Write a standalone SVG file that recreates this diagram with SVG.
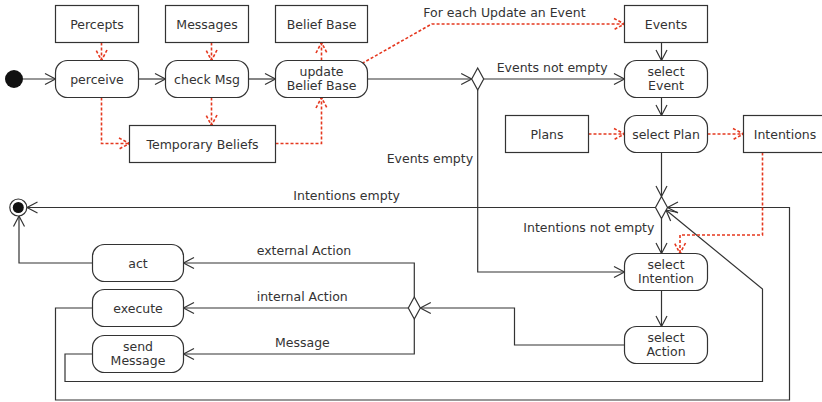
<svg xmlns="http://www.w3.org/2000/svg" width="822" height="402" viewBox="0 0 822 402">
<style>
.box{fill:#fff;stroke:#333;stroke-width:1.2}
.t{font-family:"DejaVu Sans",sans-serif;font-size:12.5px;fill:#333}
.c{text-anchor:middle}
.ln{fill:none;stroke:#333;stroke-width:1.2}
.rd{fill:none;stroke:#e5381f;stroke-width:1.6;stroke-dasharray:3,2}
</style>
<defs>
<marker id="a" markerUnits="userSpaceOnUse" markerWidth="12" markerHeight="14" refX="10.5" refY="6" orient="auto" overflow="visible">
<path d="M0,0.5 L10.5,6 L0,11.5" fill="none" stroke="#333" stroke-width="1.2"/>
</marker>
<marker id="r" markerUnits="userSpaceOnUse" markerWidth="12" markerHeight="14" refX="10.5" refY="6" orient="auto" overflow="visible">
<path d="M0,0.5 L10.5,6 L0,11.5" fill="none" stroke="#e5381f" stroke-width="1.6" stroke-dasharray="3,2"/>
<circle cx="10" cy="6" r="1.3" fill="#e5381f"/>
</marker>
</defs>
<rect width="822" height="402" fill="#fff"/>

<g id="connectors">
<line class="ln" x1="23" y1="79" x2="55.5" y2="79" marker-end="url(#a)"/>
<line class="ln" x1="138.5" y1="79" x2="165.5" y2="79" marker-end="url(#a)"/>
<line class="ln" x1="248.5" y1="79" x2="275.5" y2="79" marker-end="url(#a)"/>
<line class="ln" x1="367.5" y1="79" x2="471.7" y2="79" marker-end="url(#a)"/>
<line class="ln" x1="483.7" y1="79" x2="624.5" y2="79" marker-end="url(#a)"/>
<line class="ln" x1="661.5" y1="42.5" x2="661.5" y2="60.5" marker-end="url(#a)"/>
<line class="ln" x1="661.5" y1="97.5" x2="661.5" y2="115.5" marker-end="url(#a)"/>
<line class="ln" x1="661.5" y1="152.5" x2="661.5" y2="196.5" marker-end="url(#a)"/>
<line class="ln" x1="661.5" y1="218.5" x2="661.5" y2="253.5" marker-end="url(#a)"/>
<path class="ln" d="M477.7,90 V272 H624.5" marker-end="url(#a)"/>
<line class="ln" x1="655.5" y1="207.5" x2="27" y2="207.5" marker-end="url(#a)"/>
<line class="ln" x1="661.5" y1="290.5" x2="661.5" y2="326.5" marker-end="url(#a)"/>
<path class="ln" d="M624.5,345 H514.5 V308 H420.3" marker-end="url(#a)"/>
<path class="ln" d="M414.3,297 V263 H183.5" marker-end="url(#a)"/>
<line class="ln" x1="408.3" y1="308" x2="183.5" y2="308" marker-end="url(#a)"/>
<path class="ln" d="M414.3,319 V354 H183.5" marker-end="url(#a)"/>
<path class="ln" d="M92.5,263 H19 V216" marker-end="url(#a)"/>
<path class="ln" d="M92.5,308 H55.5 V400 H789.5 V207.5 H667.5" marker-end="url(#a)"/>
<path class="ln" d="M92.5,354 H65 V381.5 H762.5 V289 L666,210" marker-end="url(#a)"/>

<line class="rd" x1="101.5" y1="42.5" x2="101.5" y2="60.5" marker-end="url(#r)"/>
<line class="rd" x1="211.5" y1="42.5" x2="211.5" y2="60.5" marker-end="url(#r)"/>
<line class="rd" x1="321.5" y1="60.5" x2="321.5" y2="42.5" marker-end="url(#r)"/>
<line class="rd" x1="211.5" y1="97.5" x2="211.5" y2="125.5" marker-end="url(#r)"/>
<path class="rd" d="M101.5,97.5 V143.5 H129.5" marker-end="url(#r)"/>
<path class="rd" d="M275.5,143.5 H321.5 V97.5" marker-end="url(#r)"/>
<path class="rd" d="M362,63.5 L431.7,24 H624.5" marker-end="url(#r)"/>
<line class="rd" x1="588.5" y1="134" x2="624.5" y2="134" marker-end="url(#r)"/>
<line class="rd" x1="707.5" y1="134" x2="743.5" y2="134" marker-end="url(#r)"/>
<path class="rd" d="M762.5,152.5 V235 H680 V253.5" marker-end="url(#r)"/>

<text class="t" x="423.3" y="16.5">For each Update an Event</text>
<text class="t" x="496.7" y="71.6">Events not empty</text>
<text class="t" x="386.7" y="163">Events empty</text>
<text class="t" x="523.3" y="231.8">Intentions not empty</text>
<text class="t" x="293.3" y="199.8">Intentions empty</text>
<text class="t" x="256.7" y="255">external Action</text>
<text class="t" x="256.7" y="300.8">internal Action</text>
<text class="t" x="275" y="346.8">Message</text>
</g>

<g id="start"><circle cx="14" cy="79" r="9" fill="#111"/></g>
<g id="end"><circle cx="18.3" cy="207.5" r="8.5" fill="#fff" stroke="#333" stroke-width="1.2"/><circle cx="18.3" cy="207.5" r="5.5" fill="#111"/></g>

<g id="d1"><path class="box" d="M477.7,68 L483.7,79 L477.7,90 L471.7,79 Z"/></g>
<g id="d2"><path class="box" d="M661.5,196.5 L667.5,207.5 L661.5,218.5 L655.5,207.5 Z"/></g>
<g id="d3"><path class="box" d="M414.3,297 L420.3,308 L414.3,319 L408.3,308 Z"/></g>

<g id="percepts"><rect class="box" x="55.5" y="5.5" width="83" height="37"/><text class="t c" x="97" y="28.5">Percepts</text></g>
<g id="messages"><rect class="box" x="165.5" y="5.5" width="83" height="37"/><text class="t c" x="207" y="28.5">Messages</text></g>
<g id="beliefbase"><rect class="box" x="275.5" y="5.5" width="92" height="37"/><text class="t c" x="321.5" y="28.5">Belief Base</text></g>
<g id="events"><rect class="box" x="624.5" y="5.5" width="83" height="37"/><text class="t c" x="666" y="28.5">Events</text></g>

<g id="perceive"><rect class="box" x="55.5" y="60.5" width="83" height="37" rx="12"/><text class="t c" x="97" y="83.5">perceive</text></g>
<g id="checkmsg"><rect class="box" x="165.5" y="60.5" width="83" height="37" rx="12"/><text class="t c" x="207" y="83.5">check Msg</text></g>
<g id="update"><rect class="box" x="275.5" y="60.5" width="92" height="37" rx="12"/><text class="t c" x="321.5" y="76.3">update</text><text class="t c" x="321.5" y="90.3">Belief Base</text></g>
<g id="selectevent"><rect class="box" x="624.5" y="60.5" width="83" height="37" rx="12"/><text class="t c" x="666" y="76.3">select</text><text class="t c" x="666" y="90.3">Event</text></g>

<g id="tempbeliefs"><rect class="box" x="129.5" y="125.5" width="146" height="37"/><text class="t c" x="202.5" y="148.5">Temporary Beliefs</text></g>

<g id="plans"><rect class="box" x="505.5" y="115.5" width="83" height="37"/><text class="t c" x="547" y="138.5">Plans</text></g>
<g id="selectplan"><rect class="box" x="624.5" y="115.5" width="83" height="37" rx="12"/><text class="t c" x="666" y="138.5">select Plan</text></g>
<g id="intentions"><rect class="box" x="743.5" y="115.5" width="83" height="37"/><text class="t c" x="785" y="138.5">Intentions</text></g>

<g id="selectintention"><rect class="box" x="624.5" y="253.5" width="83" height="37" rx="12"/><text class="t c" x="666" y="269.2">select</text><text class="t c" x="666" y="283.2">Intention</text></g>
<g id="selectaction"><rect class="box" x="624.5" y="326.5" width="83" height="37" rx="12"/><text class="t c" x="666" y="342.2">select</text><text class="t c" x="666" y="356.2">Action</text></g>

<g id="act"><rect class="box" x="92.5" y="244.5" width="91" height="37" rx="12"/><text class="t c" x="138" y="267.5">act</text></g>
<g id="execute"><rect class="box" x="92.5" y="289.5" width="91" height="37" rx="12"/><text class="t c" x="138" y="312.5">execute</text></g>
<g id="sendmessage"><rect class="box" x="92.5" y="335.5" width="91" height="37" rx="12"/><text class="t c" x="138" y="351.2">send</text><text class="t c" x="138" y="365.2">Message</text></g>
</svg>
